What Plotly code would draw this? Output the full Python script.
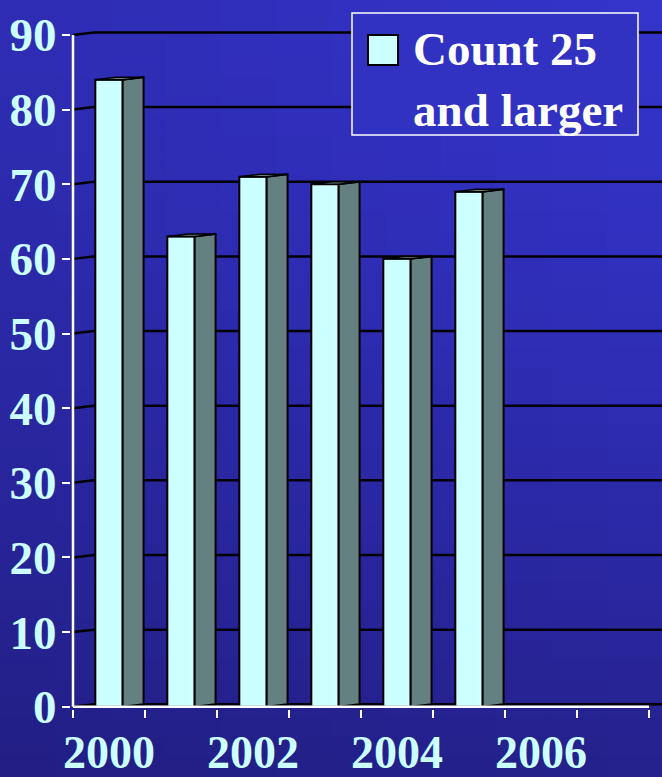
import numpy as np
import plotly.graph_objects as go

# ---------------- data ----------------
years = ["2000", "2001", "2002", "2003", "2004", "2005", "2006", "2007"]
counts = [84, 63, 71, 70, 60, 69]          # bars for 2000..2005
y_ticks = list(range(0, 100, 10))
x_label_idx = [0, 2, 4, 6]
x_label_text = ["2000", "2002", "2004", "2006"]
series_name = "Count 25<br>and larger"

# ---------------- style ----------------
FRONT = "#CCFFFF"
SIDE = "#658080"
TICKCOL = "#CCFFFF"
FONT = "Liberation Serif"
BAR_W = 0.38          # front face width (category units)
DX, DY = 0.29, 0.33   # 3-D depth offset (category units, value units)

W, H = 662, 777
PX_CAT = 72.0
S = 7.4667            # px per value unit
x0 = -0.5 - 2 / PX_CAT
L = 73 - 2
xr = [x0, x0 + (W - L) / PX_CAT]
yr = [-0.3, 92]
B = H - (707 + 0.3 * S)
T = (707 + 0.3 * S) - (yr[1] - yr[0]) * S

n_cat = len(years)
idx = np.arange(len(counts))

fig = go.Figure()

# front faces
fig.add_trace(go.Bar(
    x=idx, y=counts, width=BAR_W,
    marker=dict(color=FRONT, line=dict(color="black", width=2)),
    name=series_name, showlegend=False, hoverinfo="skip"))

# side faces and top faces computed from data
sx, sy, tx, ty = [], [], [], []
for i, v in zip(idx, counts):
    r = i + BAR_W / 2
    l = i - BAR_W / 2
    sx += [r, r + DX, r + DX, r, r, None]
    sy += [0, DY, v + DY, v, 0, None]
    tx += [l, l + DX, r + DX, r, l, None]
    ty += [v, v + DY, v + DY, v, v, None]
fig.add_trace(go.Scatter(x=sx, y=sy, mode="lines", fill="toself",
                         fillcolor=SIDE, line=dict(color="black", width=2),
                         showlegend=False, hoverinfo="skip"))
fig.add_trace(go.Scatter(x=tx, y=ty, mode="lines", fill="toself",
                         fillcolor=SIDE, line=dict(color="black", width=1.5),
                         showlegend=False, hoverinfo="skip"))

# axis lines
fig.add_trace(go.Scatter(x=[-0.5, -0.5], y=[0, y_ticks[-1]], mode="lines",
                         line=dict(color="white", width=2.5),
                         showlegend=False, hoverinfo="skip"))
fig.add_trace(go.Scatter(x=[-0.5, n_cat - 0.5], y=[0, 0], mode="lines",
                         line=dict(color="white", width=2.5),
                         showlegend=False, hoverinfo="skip"))

shapes = []
# background gradient (paper coords spanning whole figure)
pw = W - L
ph = (yr[1] - yr[0]) * S
px0, px1 = -L / pw, 1.0
py0, py1 = -B / ph, 1 + T / ph


def hex2rgb(h):
    h = h.lstrip("#")
    return np.array([int(h[k:k + 2], 16) for k in (0, 2, 4)], float)


TL, TR = hex2rgb("#2E2CB2"), hex2rgb("#3434CC")
BL, BR = hex2rgb("#221E84"), hex2rgb("#25218C")
NC, NR = 12, 40
for ci in range(NC):
    for ri in range(NR):
        u = (ci + 0.5) / NC
        t = ((ri + 0.5) / NR) ** 1.4
        top = TL * (1 - u) + TR * u
        bot = BL * (1 - u) + BR * u
        c = top * (1 - t) + bot * t
        col = "rgb(%d,%d,%d)" % tuple(c.round().astype(int))
        shapes.append(dict(type="rect", xref="paper", yref="paper", layer="below",
                           x0=px0 + (px1 - px0) * ci / NC - 0.001,
                           x1=px0 + (px1 - px0) * (ci + 1) / NC + 0.001,
                           y1=py1 - (py1 - py0) * ri / NR + 0.001,
                           y0=py1 - (py1 - py0) * (ri + 1) / NR - 0.001,
                           fillcolor=col, line=dict(width=0)))

# perspective gridlines (side wall + back wall)
for v in y_ticks:
    shapes.append(dict(type="path", xref="x", yref="y", layer="below",
                       path="M %f,%f L %f,%f L %f,%f" % (-0.5, v, -0.5 + DX, v + DY,
                                                          n_cat - 0.5 + DX, v + DY),
                       line=dict(color="black", width=2.5)))


def px2x(p):
    return (p - L) / pw


def py2y(p):
    return (H - B - p) / ph


# legend box
shapes.append(dict(type="rect", xref="paper", yref="paper", layer="above",
                   x0=px2x(352), x1=px2x(638), y0=py2y(135), y1=py2y(13),
                   fillcolor="#3131C2", line=dict(color="white", width=1.5)))
shapes.append(dict(type="rect", xref="paper", yref="paper", layer="above",
                   x0=px2x(368), x1=px2x(398), y0=py2y(65), y1=py2y(35),
                   fillcolor=FRONT, line=dict(color="black", width=2)))

fig.update_layout(
    width=W, height=H,
    margin=dict(l=L, r=0, t=T, b=B, pad=0, autoexpand=False),
    paper_bgcolor="#2A28A4", plot_bgcolor="rgba(0,0,0,0)",
    shapes=shapes,
    showlegend=False,
    annotations=[dict(text="<b>" + series_name + "</b>", xref="paper", yref="paper",
                      x=px2x(411), y=py2y(80), xanchor="left", yanchor="middle",
                      align="left", showarrow=False,
                      font=dict(family=FONT, size=47, color="white"))],
    xaxis=dict(range=xr, tickvals=x_label_idx, ticktext=x_label_text,
               ticks="", showgrid=False, zeroline=False, showline=False,
               automargin=False,
               tickfont=dict(family=FONT, size=46, color=TICKCOL, weight="bold"),
               ticklabelstandoff=12,
               minor=dict(tickvals=[k - 0.5 for k in range(n_cat + 1)],
                          ticks="outside", ticklen=8, tickwidth=2,
                          tickcolor="white", showgrid=False)),
    yaxis=dict(range=yr, tickvals=y_ticks, ticks="outside", ticklen=8,
               tickwidth=2, tickcolor="white", showgrid=False, zeroline=False,
               showline=False, automargin=False, ticklabelstandoff=-4,
               tickfont=dict(family=FONT, size=47, color=TICKCOL, weight="bold")),
)

fig.write_html("out.html")
